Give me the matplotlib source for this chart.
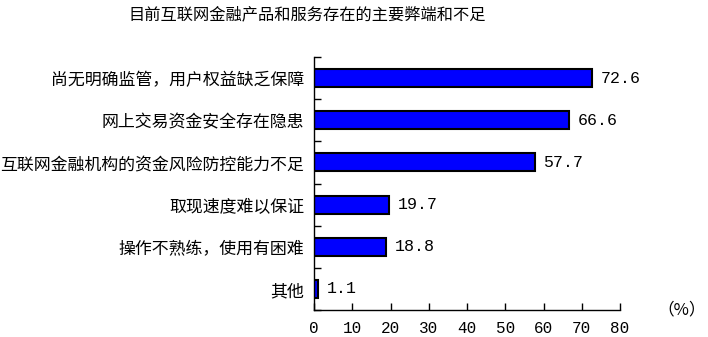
import matplotlib
matplotlib.use("Agg")
import matplotlib.pyplot as plt
import numpy as np

categories = ["尚无明确监管，用户权益缺乏保障", "网上交易资金安全存在隐患", "互联网金融机构的资金风险防控能力不足",
              "取现速度难以保证", "操作不熟练，使用有困难", "其他"]
values = [72.6, 66.6, 57.7, 19.7, 18.8, 1.1]
xticks = [0, 10, 20, 30, 40, 50, 60, 70, 80]
title = "目前互联网金融产品和服务存在的主要弊端和不足"

cjk = ['Noto Sans CJK SC', 'DejaVu Sans']
mono = ['Liberation Mono', 'DejaVu Sans Mono']

fig = plt.figure(figsize=(7.08, 3.37), dpi=100)
ax = fig.add_axes([314/708, 1-310/337, 306/708, 253/337])
y = np.arange(len(categories))
ax.barh(y, values, height=0.43, color='#0000FF', edgecolor='black', linewidth=1.5)
ax.set_ylim(len(categories)-0.5, -0.5)
ax.set_xlim(0, 80)
ax.set_xticks(xticks)
ax.set_xticklabels([str(t) for t in xticks], family=mono, fontsize=11.5)
ax.set_yticks(y)
ax.set_yticklabels(categories, family=cjk, fontsize=12.2)
ax.set_yticks(np.arange(len(categories)+1)-0.5, minor=True)
ax.tick_params(axis='y', which='major', length=0, pad=7)
ax.tick_params(axis='y', which='minor', length=5, direction='in', width=1)
ax.tick_params(axis='x', which='major', length=5, direction='in', width=1, pad=8)
for s in ['top', 'right']:
    ax.spines[s].set_visible(False)
for s in ['left', 'bottom']:
    ax.spines[s].set_linewidth(1)
for yi, v in zip(y, values):
    ax.text(v + 2.3, yi, f"{v:.1f}", va='center', ha='left', family=mono, fontsize=12)
fig.text(682/708, 1-310/337, "（%）", ha='center', va='center', family=cjk, fontsize=12)
fig.text(307/708, 1-15/337, title, ha='center', va='center', family=cjk, fontsize=11.7)
fig.savefig("out.png", dpi=100)
